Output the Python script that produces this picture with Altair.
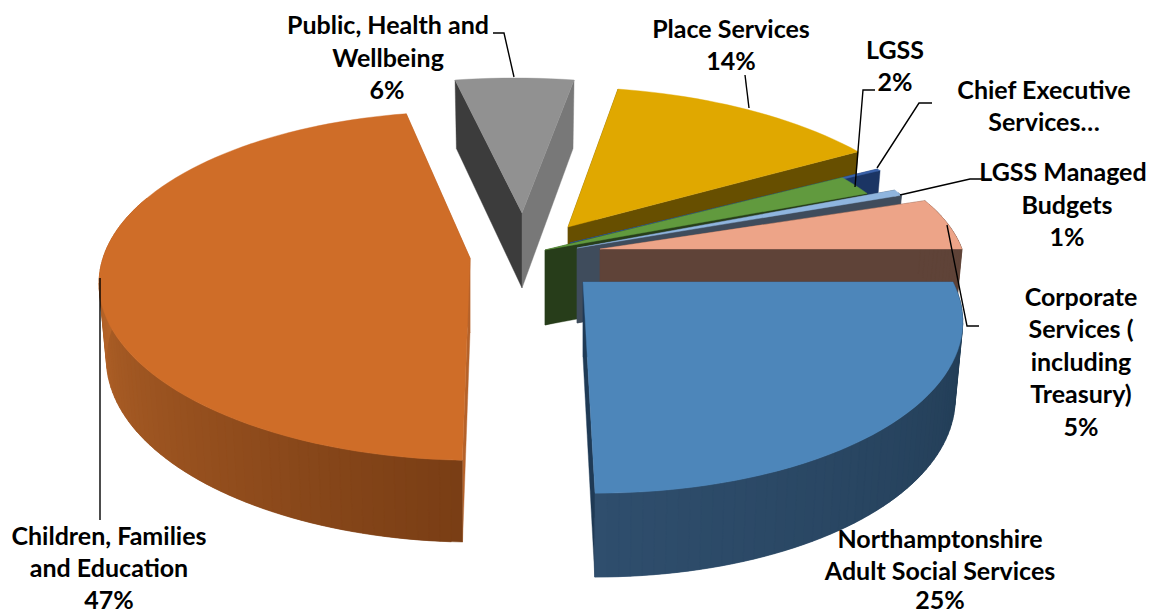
import math
import altair as alt

# ---- data -------------------------------------------------------------
names = ["Adult", "Children", "Public", "Place", "Chief", "LGSS", "Managed", "Corporate"]
shares = [25, 47, 6, 13.8, 0.2, 2, 0.6, 5.4]

# ---- per-slice look: apex x, y, radius x, radius y, perspective, shear, start pad
geometry = {
    "Adult": (583, 282, 370, 169, .2, .057, 0),
    "Children": (470, 258, 367, 170, .16, .03, 1.8),
    "Public": (522, 213, 380, 162, .2, .056, 0),
    "Place": (568, 227, 372, 168, .2, .06, 0),
    "Chief": (570, 243, 388, 165, .2, 0, 0),
    "LGSS": (545, 250, 372, 165, .2, 0, 0),
    "Managed": (577, 248, 367, 169, .2, 0, 0),
    "Corporate": (600, 249, 362, 155, .2, -.1, 0),
}
# top, start-cut, end-cut, wall colour at start angle, wall colour at end angle
palette = {
    "Adult": ("#4d86ba", "#243f5a", "#1f3a55", "#203a52", "#2f4e6d"),
    "Children": ("#cf6d28", "#b5622a", "#b5622a", "#7a3e15", "#bb682b"),
    "Public": ("#919191", "#3c3c3c", "#787878", "#777777", "#777777"),
    "Place": ("#e0a800", "#674f00", "#674f00", "#674f00", "#674f00"),
    "Chief": ("#3a62aa", "#1b3564", "#1b3564", "#1b3564", "#1b3564"),
    "LGSS": ("#619a3e", "#273d1a", "#273d1a", "#273d1a", "#273d1a"),
    "Managed": ("#8fb5de", "#3f4c5c", "#3f4c5c", "#3f4c5c", "#3f4c5c"),
    "Corporate": ("#eda488", "#5f4338", "#5f4338", "#5f4338", "#5f4338"),
}
draw_order = ["Public", "Place", "Chief", "LGSS", "Managed", "Corporate", "Adult", "Children"]

label_text = ["Public, Health and", "Wellbeing", "6%", "Place Services", "14%", "LGSS", "2%",
              "Chief Executive", "Services…", "LGSS Managed", "Budgets", "1%",
              "Corporate", "Services (", "including", "Treasury)", "5%",
              "Northamptonshire", "Adult Social Services", "25%",
              "Children, Families", "and Education", "47%"]
label_x = [388, 388, 387, 731, 731, 895, 895, 1044, 1044, 1063, 1067, 1067,
           1081, 1081, 1081, 1081, 1081, 940, 940, 940, 109, 109, 109]
label_y = [26, 59, 91, 30, 62, 51, 83, 91, 123, 173, 206, 238,
           298, 330, 363, 395, 428, 540, 572, 601, 537, 569, 601]
leaders = [
    [(493, 33), (504, 33), (514, 77)],
    [(745, 75), (749, 108)],
    [(875, 90), (863, 90), (855, 187)],
    [(932, 103), (919, 103), (877, 168)],
    [(982, 179), (970, 179), (900, 195)],
    [(947, 225), (967, 326), (979, 326)],
    [(100, 278), (100, 520)],
]

OFFSET = 8
DEPTH = 75
BOTTOM_SCALE = 0.98


def top_point(name, deg):
    ax, ay, rx, ry, k, shear, _ = geometry[name]
    c, s = math.cos(math.radians(deg)), math.sin(math.radians(deg))
    w = 1 - k * s
    x, y = rx * c / w, ry * s / w
    return ax + x + shear * y, ay + y, w


def bottom_point(name, deg):
    ax, ay = geometry[name][:2]
    x, y, w = top_point(name, deg)
    return ax + (x - ax) * BOTTOM_SCALE, y + DEPTH / math.sqrt(w)


def xy(p):
    return [round(p[0] - OFFSET, 2), round(p[1] - OFFSET, 2)]


def poly(points, color):
    ring = [xy(p) for p in points]
    ring.append(ring[0])
    return {"type": "Feature", "properties": {"color": color},
            "geometry": {"type": "Polygon", "coordinates": [ring]}}


def mix(a, b, t):
    ca = [int(a[i:i + 2], 16) for i in (1, 3, 5)]
    cb = [int(b[i:i + 2], 16) for i in (1, 3, 5)]
    return "#%02x%02x%02x" % tuple(round(u + (v - u) * t) for u, v in zip(ca, cb))


spans = {}
acc = 0
for n, v in zip(names, shares):
    spans[n] = (acc * 3.6 + geometry[n][6], (acc + v) * 3.6)
    acc += v

features = []
for n in draw_order:
    a0, a1 = spans[n]
    top, cut0, cut1, wall0, wall1 = palette[n]
    ax, ay = geometry[n][:2]
    apex = (ax, ay)
    apex_low = (ax, ay + DEPTH)
    # cut faces
    for deg, col in ((a0, cut0), (a1, cut1)):
        features.append(poly([apex, top_point(n, deg)[:2], bottom_point(n, deg), apex_low], col))
    # outer wall, only the part turned towards the viewer
    steps = max(2, int((a1 - a0) / 1.5))
    for i in range(steps):
        d0 = a0 + (a1 - a0) * i / steps
        d1 = a0 + (a1 - a0) * (i + 2) / steps if i + 2 <= steps else a1
        if math.sin(math.radians((d0 + d1) / 2)) < -0.35:
            continue
        t = min(1, (d0 - a0) / min(a1 - a0, 95))
        features.append(poly([top_point(n, d0)[:2], top_point(n, d1)[:2],
                              bottom_point(n, d1), bottom_point(n, d0)],
                             mix(wall0, wall1, t)))
    # top face
    count = max(2, int((a1 - a0) / 2))
    arc = [top_point(n, a0 + (a1 - a0) * i / count)[:2] for i in range(count + 1)]
    features.append(poly([apex] + arc, top))

line_features = [{"type": "Feature", "properties": {},
                  "geometry": {"type": "LineString", "coordinates": [xy(p) for p in l]}}
                 for l in leaders]

labels = [{"t": t, "lon": x - OFFSET, "lat": y - OFFSET}
          for t, x, y in zip(label_text, label_x, label_y)]

proj = alt.Projection(type="identity", scale=1, translate=[0, 0])

shapes = alt.Chart(alt.Data(values={"type": "FeatureCollection", "features": features},
                            format=alt.DataFormat(property="features", type="json"))
                   ).mark_geoshape(strokeWidth=0.4).encode(
    fill=alt.Fill("properties.color:N", scale=None),
    stroke=alt.Stroke("properties.color:N", scale=None),
).project(**proj.to_dict())

lines = alt.Chart(alt.Data(values={"type": "FeatureCollection", "features": line_features},
                           format=alt.DataFormat(property="features", type="json"))
                  ).mark_geoshape(filled=False, stroke="#000000", strokeWidth=1.4).project(**proj.to_dict())

texts = alt.Chart(alt.Data(values=labels)).mark_text(
    font="Lato", fontWeight="bold", fontSize=25, color="#000000",
    align="center", baseline="middle",
).encode(longitude="lon:Q", latitude="lat:Q", text="t:N").project(**proj.to_dict())

chart = alt.layer(shapes, lines, texts).properties(
    width=1138, height=605, padding=0,
    autosize=alt.AutoSizeParams(type="none"),
    background="#ffffff",
).configure_view(stroke=None)

chart.save("out.html", embed_options={"renderer": "svg", "actions": False})
